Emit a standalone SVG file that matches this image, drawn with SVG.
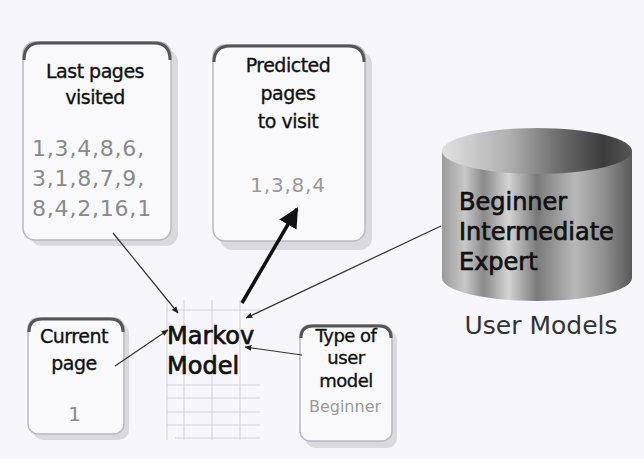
<svg xmlns="http://www.w3.org/2000/svg" width="644" height="459" viewBox="0 0 644 459">
<defs>
<style>
.bg{fill:#f6f6fb}
.box{fill:#f9f9fc;stroke:#b8b8c0;stroke-width:1.5}
.shadow{fill:#d9d9de}
.top{fill:none;stroke:#555;stroke-width:3}
.t{font-family:"DejaVu Sans",sans-serif;font-size:19px;fill:#111;stroke:#111;stroke-width:0.35;text-anchor:middle;letter-spacing:-0.5px}
.n{font-family:"DejaVu Sans",sans-serif;font-size:22px;fill:#8a8a8a;letter-spacing:0.8px}
.big{font-family:"DejaVu Sans",sans-serif;font-size:24px;fill:#111;stroke:#111;stroke-width:0.7}
.conn{stroke:#333;stroke-width:1.2;fill:none}
.grid{stroke:#d0d0d8;stroke-width:1}
</style>
<marker id="ah" viewBox="0 0 10 10" refX="9" refY="5" markerWidth="7" markerHeight="7" orient="auto" markerUnits="userSpaceOnUse">
<path d="M0,1 L10,5 L0,9 z" fill="#222"/>
</marker>
<marker id="ahb" viewBox="0 0 10 10" refX="9" refY="5" markerWidth="20" markerHeight="20" orient="auto" markerUnits="userSpaceOnUse">
<path d="M0,0 L10,5 L0,10 z" fill="#111"/>
</marker>
<linearGradient id="cyl" x1="0" x2="1" y1="0" y2="0">
<stop offset="0" stop-color="#9a9a9a"/>
<stop offset="0.12" stop-color="#c8c8c8"/>
<stop offset="0.22" stop-color="#8a8a8a"/>
<stop offset="0.35" stop-color="#d4d4d4"/>
<stop offset="0.5" stop-color="#7a7a7a"/>
<stop offset="0.7" stop-color="#b8b8b8"/>
<stop offset="0.85" stop-color="#909090"/>
<stop offset="1" stop-color="#5a5a5a"/>
</linearGradient>
<linearGradient id="cyltop" x1="0" x2="1" y1="0" y2="0">
<stop offset="0" stop-color="#e0e0e0"/>
<stop offset="0.35" stop-color="#b0b0b0"/>
<stop offset="0.6" stop-color="#707070"/>
<stop offset="0.85" stop-color="#3c3c3c"/>
<stop offset="1" stop-color="#555"/>
</linearGradient>
</defs>
<rect class="bg" x="0" y="0" width="644" height="459"/>

<g id="last-pages">
<rect class="shadow" x="30" y="50" width="148" height="196" rx="12"/>
<rect class="box" x="23" y="42" width="148" height="198" rx="12"/>
<path class="top" d="M24,60 Q24,43 40,43 L154,43 Q170,43 170,60"/>
<text class="t" x="95" y="78">Last pages</text>
<text class="t" x="95" y="104">visited</text>
<text class="n" x="32" y="156">1,3,4,8,6,</text>
<text class="n" x="32" y="186">3,1,8,7,9,</text>
<text class="n" x="32" y="216">8,4,2,16,1</text>
</g>

<g id="predicted">
<rect class="shadow" x="220" y="52" width="152" height="198" rx="12"/>
<rect class="box" x="213" y="45" width="152" height="196" rx="12"/>
<path class="top" d="M214,62 Q214,46 230,46 L348,46 Q364,46 364,62"/>
<text class="t" x="288" y="72">Predicted</text>
<text class="t" x="288" y="100">pages</text>
<text class="t" x="288" y="128">to visit</text>
<text class="n" x="288" y="192" text-anchor="middle" style="font-size:20px;fill:#999">1,3,8,4</text>
</g>

<g id="user-models">
<path d="M442,151 L442,278 A95,23 0 0 0 632,278 L632,151 Z" fill="url(#cyl)"/>
<ellipse cx="537" cy="151" rx="95" ry="23" fill="url(#cyltop)"/>
<text class="big" x="459" y="210">Beginner</text>
<text class="big" x="459" y="240">Intermediate</text>
<text class="big" x="459" y="270">Expert</text>
<text x="541" y="334" style="font-family:'DejaVu Sans',sans-serif;font-size:25px;fill:#333;text-anchor:middle">User Models</text>
</g>

<g id="current-page">
<rect class="shadow" x="33" y="323" width="96" height="117" rx="10"/>
<rect class="box" x="28" y="318" width="96" height="116" rx="10"/>
<path class="top" d="M29,332 Q29,319 42,319 L110,319 Q123,319 123,332"/>
<text class="t" x="74" y="343">Current</text>
<text class="t" x="74" y="370">page</text>
<text class="n" x="75" y="421" text-anchor="middle" style="font-size:20px">1</text>
</g>

<g id="markov-model">
<line class="grid" x1="167" y1="300" x2="167" y2="440"/>
<line class="grid" x1="184" y1="300" x2="184" y2="440"/>
<line class="grid" x1="212" y1="300" x2="212" y2="440"/>
<line class="grid" x1="240" y1="300" x2="240" y2="440"/>
<line class="grid" x1="167" y1="310" x2="260" y2="310"/>
<line class="grid" x1="167" y1="385" x2="260" y2="385"/>
<line class="grid" x1="167" y1="398" x2="260" y2="398"/>
<line class="grid" x1="167" y1="412" x2="260" y2="412"/>
<line class="grid" x1="167" y1="425" x2="260" y2="425"/>
<line class="grid" x1="175" y1="438" x2="260" y2="438"/>
<text class="big" x="167" y="344">Markov</text>
<text class="big" x="167" y="374">Model</text>
</g>

<g id="type-of-user-model">
<rect class="shadow" x="305" y="330" width="92" height="118" rx="10"/>
<rect class="box" x="300" y="325" width="92" height="116" rx="10"/>
<path class="top" d="M301,338 Q301,326 313,326 L379,326 Q391,326 391,338"/>
<text class="t" x="346" y="342" style="font-size:18px">Type of</text>
<text class="t" x="346" y="364" style="font-size:18px">user</text>
<text class="t" x="346" y="387" style="font-size:18px">model</text>
<text x="345" y="412" style="font-family:'DejaVu Sans',sans-serif;font-size:16px;fill:#999;text-anchor:middle">Beginner</text>
</g>

<g id="connectors">
<line class="conn" x1="113" y1="233" x2="178" y2="313" marker-end="url(#ah)"/>
<line x1="242" y1="303" x2="297" y2="209" stroke="#111" stroke-width="3.5" marker-end="url(#ahb)"/>
<line class="conn" x1="441" y1="226" x2="246" y2="318" marker-end="url(#ah)"/>
<line class="conn" x1="115" y1="366" x2="168" y2="330" marker-end="url(#ah)"/>
<line class="conn" x1="302" y1="355" x2="245" y2="347" marker-end="url(#ah)"/>
</g>
</svg>
